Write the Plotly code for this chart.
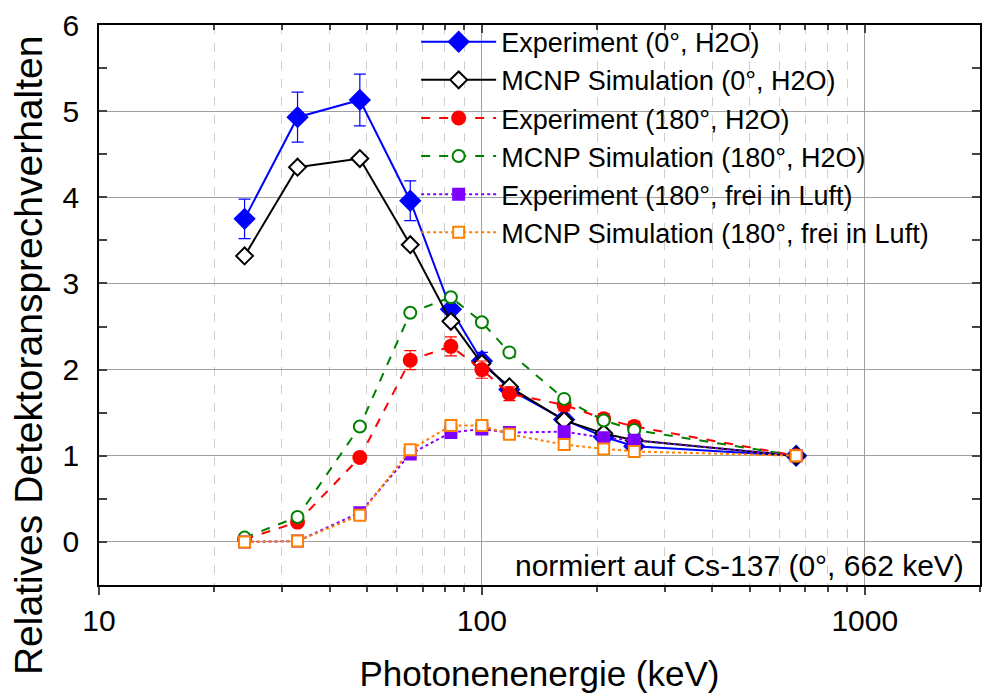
import plotly.graph_objects as go

energy = [24, 33, 48, 65, 83, 100, 118, 164, 208, 250, 662]

exp0_h2o = [3.75, 4.93, 5.13, 3.96, 2.70, 2.10, 1.77, 1.42, 1.22, 1.11, 1.0]
exp0_h2o_err = [0.23, 0.29, 0.30, 0.23, 0.10, 0.10, 0.07, 0.06, 0.05, 0.05, 0.02]
sim0_h2o = [3.32, 4.35, 4.45, 3.45, 2.56, 2.07, 1.80, 1.41, 1.26, 1.18, 1.0]
exp180_h2o = [0.03, 0.23, 0.98, 2.11, 2.27, 2.00, 1.72, 1.59, 1.43, 1.34, 1.0]
exp180_h2o_err = [0.01, 0.02, 0.05, 0.11, 0.11, 0.10, 0.08, 0.07, 0.06, 0.06, 0.02]
sim180_h2o = [0.05, 0.29, 1.34, 2.66, 2.84, 2.55, 2.20, 1.66, 1.41, 1.30, 1.0]
exp180_air = [0.0, 0.01, 0.34, 1.02, 1.27, 1.31, 1.27, 1.28, 1.21, 1.18, 1.0]
exp180_air_err = [0.01, 0.01, 0.02, 0.04, 0.04, 0.04, 0.04, 0.04, 0.04, 0.04, 0.02]
sim180_air = [0.0, 0.01, 0.31, 1.07, 1.35, 1.35, 1.25, 1.13, 1.08, 1.05, 1.0]

names = [
    "Experiment (0°, H2O)",
    "MCNP Simulation (0°, H2O)",
    "Experiment (180°, H2O)",
    "MCNP Simulation (180°, H2O)",
    "Experiment (180°, frei in Luft)",
    "MCNP Simulation (180°, frei in Luft)",
]
y_title = "Relatives Detektoransprechverhalten"
x_title = "Photonenenergie (keV)"
note = "normiert auf Cs-137 (0°, 662 keV)"

FONT = "Arial, Liberation Sans, sans-serif"
fig = go.Figure()

def add(y, name, color, symbol, size, dash, err=None, open_=False):
    marker = dict(symbol=symbol, size=size, color="white" if open_ else color,
                  line=dict(color=color, width=2))
    kw = {}
    if err is not None:
        kw["error_y"] = dict(type="data", array=err, visible=True, color=color,
                             thickness=1.2, width=6)
    fig.add_trace(go.Scatter(x=energy, y=y, name=name, mode="lines+markers",
                             line=dict(color=color, width=2, dash=dash),
                             marker=marker, **kw))

add(exp0_h2o, names[0], "#0000ff", "diamond", 15, "solid", exp0_h2o_err)
add(sim0_h2o, names[1], "#000000", "diamond", 13, "solid", open_=True)
add(exp180_h2o, names[2], "#ff0000", "circle", 13, "dash", exp180_h2o_err)
add(sim180_h2o, names[3], "#008000", "circle", 12, "dash", open_=True)
add(exp180_air, names[4], "#8000ff", "square", 11, "dot", exp180_air_err)
add(sim180_air, names[5], "#ff8000", "square", 11, "dot", open_=True)

# empty helper trace so the top (mirror) axis with inward ticks is drawn
fig.add_trace(go.Scatter(x=[], y=[], xaxis="x2", showlegend=False, hoverinfo="skip"))

fig.add_annotation(text=note, xref="paper", yref="paper",
                   x=0.984, y=0.034, xanchor="right", yanchor="middle", showarrow=False,
                   font=dict(size=30, color="black", family=FONT))
fig.add_annotation(text=y_title, xref="paper", yref="paper", textangle=-90,
                   x=-0.0805, y=0.4107, xanchor="center", yanchor="middle", showarrow=False,
                   font=dict(size=39, color="black", family=FONT))

xrange = [1, 3.301]
fig.update_layout(
    width=984, height=696,
    margin=dict(l=99, r=2, t=25, b=111),
    paper_bgcolor="white", plot_bgcolor="white",
    font=dict(family=FONT, color="black"),
    showlegend=True,
    legend=dict(x=0.36, y=1.013, xanchor="left", yanchor="top", bgcolor="rgba(0,0,0,0)",
                font=dict(size=27, family=FONT), tracegroupgap=0, itemwidth=75),
    xaxis=dict(type="log", range=xrange, title=dict(text=x_title,
               font=dict(size=35), standoff=26),
               tickmode="linear", tick0=0, dtick=1,
               tickfont=dict(size=30), ticks="outside", ticklen=8, tickwidth=1.5,
               showline=True, linecolor="black", linewidth=1.5, mirror=True,
               showgrid=True, gridcolor="#a0a0a0", gridwidth=1.2,
               minor=dict(dtick="D1", ticks="outside", ticklen=5, showgrid=True,
                          gridcolor="#cfcfcf", griddash="dash", gridwidth=1),
               zeroline=False),
    xaxis2=dict(type="log", range=xrange, overlaying="x", side="top", anchor="y",
                tickmode="linear", tick0=0, dtick=1, ticks="inside", ticklen=8,
                tickwidth=1.5, showticklabels=False, showgrid=False, showline=False,
                minor=dict(dtick="D1", ticks="inside", ticklen=5, showgrid=False),
                zeroline=False),
    yaxis=dict(range=[-0.5, 6],
               dtick=1, tickfont=dict(size=30), ticks="inside", ticklen=8, tickwidth=1.5,
               ticklabelstandoff=12,
               showline=True, linecolor="black", linewidth=1.5, mirror="allticks",
               showgrid=True, gridcolor="#a0a0a0", gridwidth=1.2,
               minor=dict(ticks="inside", ticklen=4, dtick=0.5),
               zeroline=False),
)

fig.write_html("out.html")
